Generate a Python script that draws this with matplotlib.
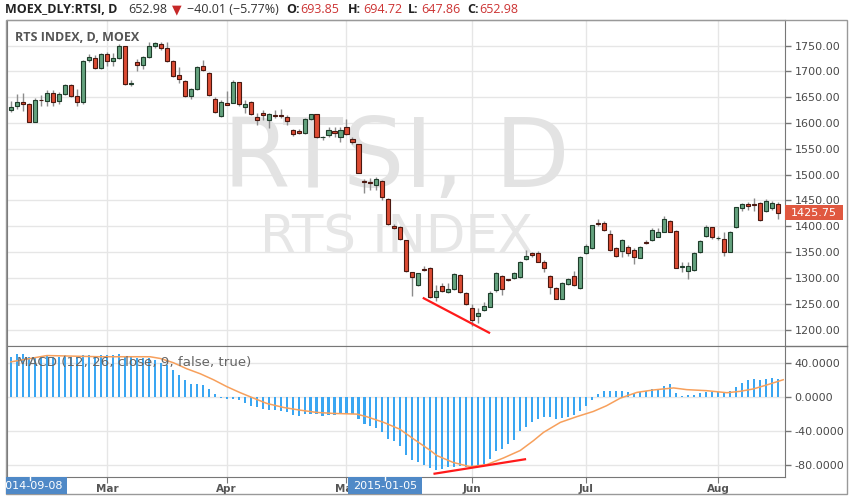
import matplotlib
matplotlib.use('Agg')
import matplotlib.pyplot as plt
import numpy as np
from matplotlib.patches import Rectangle
from matplotlib.lines import Line2D
from matplotlib.transforms import Bbox

W, H = 851, 498

# ── Data: daily candles (O, H, L, C) ─────────────────────────────
opens = [1625, 1633, 1641, 1637, 1602, 1645, 1643, 1659, 1642, 1656,
         1673, 1652, 1641, 1722, 1726, 1707, 1733, 1720, 1725, 1749,
         1676, 1718, 1712, 1728, 1750, 1753, 1746, 1720, 1693, 1682,
         1652, 1665, 1710, 1697, 1646, 1613, 1638, 1639, 1679, 1631,
         1641, 1611, 1620, 1606, 1616, 1616, 1611, 1586, 1585, 1581,
         1607, 1617, 1572, 1576, 1584, 1573, 1592, 1569, 1559, 1487,
         1486, 1480, 1488, 1453, 1400, 1399, 1373, 1311, 1286, 1318,
         1320, 1264, 1285, 1272, 1278, 1306, 1271, 1241, 1227, 1237,
         1244, 1277, 1304, 1297, 1299, 1302, 1336, 1348, 1349, 1331,
         1304, 1281, 1260, 1288, 1304, 1280, 1349, 1357, 1407, 1407,
         1386, 1357, 1353, 1359, 1355, 1339, 1369, 1373, 1380, 1389,
         1411, 1391, 1321, 1314, 1315, 1351, 1381, 1398, 1377, 1375,
         1351, 1398, 1435, 1443, 1443, 1445, 1430, 1435, 1444]
highs = [1643, 1657, 1658, 1639, 1648, 1655, 1663, 1663, 1660, 1675,
         1675, 1665, 1721, 1733, 1731, 1735, 1737, 1735, 1752, 1750,
         1683, 1724, 1730, 1756, 1756, 1756, 1757, 1721, 1708, 1684,
         1667, 1711, 1722, 1699, 1650, 1644, 1661, 1683, 1680, 1645,
         1643, 1619, 1625, 1620, 1625, 1627, 1615, 1588, 1588, 1609,
         1618, 1618, 1575, 1593, 1593, 1593, 1607, 1573, 1560, 1491,
         1493, 1496, 1490, 1455, 1405, 1400, 1374, 1312, 1310, 1323,
         1322, 1287, 1290, 1290, 1309, 1308, 1273, 1250, 1241, 1254,
         1275, 1312, 1306, 1298, 1311, 1332, 1355, 1350, 1353, 1334,
         1306, 1283, 1292, 1299, 1314, 1343, 1365, 1403, 1414, 1410,
         1392, 1360, 1375, 1363, 1357, 1362, 1373, 1396, 1396, 1419,
         1413, 1393, 1331, 1331, 1351, 1374, 1402, 1399, 1381, 1389,
         1391, 1438, 1445, 1447, 1455, 1447, 1453, 1448, 1447]
lows = [1622, 1628, 1624, 1601, 1601, 1633, 1632, 1632, 1637, 1654,
        1651, 1633, 1636, 1718, 1704, 1705, 1711, 1711, 1723, 1674,
        1672, 1701, 1705, 1726, 1745, 1741, 1718, 1689, 1678, 1651,
        1646, 1664, 1700, 1652, 1620, 1612, 1634, 1638, 1633, 1620,
        1615, 1596, 1606, 1590, 1610, 1610, 1597, 1575, 1578, 1579,
        1606, 1571, 1568, 1573, 1573, 1563, 1576, 1560, 1503, 1465,
        1470, 1470, 1451, 1403, 1394, 1373, 1311, 1265, 1285, 1313,
        1262, 1255, 1272, 1271, 1277, 1271, 1248, 1207, 1212, 1235,
        1243, 1272, 1267, 1294, 1297, 1300, 1334, 1341, 1330, 1311,
        1268, 1259, 1259, 1286, 1284, 1279, 1346, 1356, 1401, 1390,
        1353, 1341, 1341, 1343, 1327, 1338, 1366, 1372, 1379, 1388,
        1388, 1319, 1312, 1298, 1314, 1349, 1380, 1376, 1373, 1343,
        1350, 1397, 1430, 1432, 1429, 1411, 1427, 1431, 1415]
closes = [1631, 1641, 1637, 1602, 1644, 1644, 1659, 1640, 1656, 1673,
          1653, 1641, 1720, 1727, 1707, 1733, 1720, 1725, 1749, 1675,
          1677, 1712, 1728, 1750, 1754, 1746, 1720, 1691, 1685, 1652,
          1665, 1709, 1702, 1654, 1622, 1641, 1635, 1680, 1637, 1637,
          1617, 1606, 1615, 1617, 1614, 1614, 1604, 1579, 1580, 1607,
          1617, 1572, 1573, 1586, 1580, 1586, 1578, 1564, 1504, 1485,
          1484, 1491, 1456, 1404, 1396, 1375, 1314, 1301, 1309, 1316,
          1264, 1275, 1275, 1278, 1307, 1273, 1250, 1218, 1233, 1246,
          1271, 1309, 1278, 1296, 1309, 1330, 1342, 1344, 1331, 1319,
          1282, 1260, 1291, 1297, 1287, 1341, 1362, 1402, 1405, 1393,
          1355, 1342, 1373, 1349, 1340, 1360, 1368, 1392, 1388, 1415,
          1389, 1320, 1322, 1323, 1349, 1372, 1398, 1379, 1378, 1351,
          1389, 1437, 1443, 1439, 1442, 1413, 1448, 1445, 1425.75]

# MACD bars and signal line (signal read at sparse points)
macd_hist = [47, 50, 50, 47, 47, 46.5, 48.5, 47, 47, 48.5, 47, 46.5, 48.5, 48.5,
             47, 48.5, 48.5, 48.5, 50, 47, 46.5, 46, 46, 46,
             43.5, 39.5, 37, 31, 26, 20, 15, 15, 14, 9, 3,
             -1, -2.7, -2.7, -4, -6.7, -10.6, -12.5, -14.5, -15.4, -15.8,
             -16.6, -17.7, -21, -22.4, -19.6, -19.6, -19.6, -22.4, -21, -21,
             -20.5, -20.5, -20.5, -26.5, -31.6, -34.5, -37, -41, -49, -52,
             -58, -68, -74, -76, -80,
             -83.5, -86, -84.7, -82, -82, -81, -82, -82, -81, -79,
             -73, -64, -61, -55.4, -50.7, -40.6, -36, -30, -26, -24,
             -23.4, -26, -25, -23.4, -21, -17, -10.5, -3.5, 3.2, 7.2,
             7.2, 6.4, 7.2, 5.2, 4, 5.2, 7.2, 9.2, 9.2, 13.2,
             15.2, 4.4, 1.2, 2, 2, 4, 5.2, 6, 5.2, 4.4,
             6.4, 11.2, 16, 19.2, 20.4, 19.2, 21.2, 22.4, 21.2]
signal_idx = [0, 6, 14.9, 23.2, 24.9, 27.1, 29.3, 31.6, 33.8, 36, 38.2, 40.5,
              42.7, 45.5, 48.2, 51, 53.8, 57.7, 59.4, 62.2, 64.9, 67.2, 70,
              71.1, 73.8, 76.6, 79.4, 82.2, 85, 87.2, 88.9, 91.7, 94.4, 97.2,
              99.4, 101.7, 104.5, 107.2, 110.6, 112.8, 116.1, 119.5, 121.7,
              123.9, 126.2, 128.9]
signal_val = [41, 48.4, 47, 47, 45, 40, 33, 27, 20, 12, 5, -1.6,
              -7.8, -12.5, -15.6, -18.3, -19.5, -20.3, -23.4, -30, -38, -49.5, -63,
              -69, -77, -82, -79.6, -71.8, -63, -51.5, -41.7, -30, -23.4, -17.2,
              -10.5, -1.6, 5.2, 8, 10.4, 8.4, 7.2, 4.8, 6.4,
              9.2, 14, 20]

month_labels = ['Mar', 'Apr', 'May', 'Jun', 'Jul', 'Aug']
month_idx = [16, 36, 56, 77, 96, 118]
price_ticks = list(range(1200, 1751, 50))
macd_ticks = [40, 0, -40, -80]
last_price = 1425.75
price_trend_x, price_trend_y = [68.9, 79.8], [1260.6, 1194]
macd_trend_x, macd_trend_y = [70.7, 85.8], [-90.2, -73.3]
cursor_labels = ['2014-09-08', '2015-01-05']
cursor_idx = [3.2, 62.4]

# ── Style ────────────────────────────────────────────────────────
up_fill, up_edge = '#64a27e', '#1f3d2b'
dn_fill, dn_edge = '#dd4b33', '#4a1810'
grid_c = '#e6e6e6'
axis_c = '#777777'
label_c = '#4a4a4a'
red_txt = '#cc3333'


def fx(px):
    return px / W


def fy(py):
    return 1 - py / H


fig = plt.figure(figsize=(W / 100, H / 100), dpi=100, facecolor='white')
ax1 = fig.add_axes([fx(7), fy(346), 778 / W, 326 / H])
ax2 = fig.add_axes([fx(7), fy(477), 778 / W, 131 / H])

n = len(closes)
x = np.arange(n)
o = np.array(opens, dtype=float)
c = np.array(closes, dtype=float)
up = c >= o
body_lo = np.minimum(o, c)
body_h = np.maximum(np.abs(c - o), 1.2)

for ax in (ax1, ax2):
    ax.set_xlim(-0.67, 129.2)
    ax.set_axisbelow(True)
    ax.grid(True, color=grid_c, linewidth=1)
    ax.set_xticks(month_idx)
    for s in ax.spines.values():
        s.set_color(axis_c)
    ax.yaxis.tick_right()
    ax.tick_params(axis='y', length=4, width=1, color=axis_c, labelcolor=label_c,
                   labelsize=8, pad=3)

# ── Candles ──────────────────────────────────────────────────────
ax1.vlines(x, lows, highs, color='#8c8c8c', linewidth=1, zorder=2)
ax1.bar(x, body_h, bottom=body_lo, width=0.68,
        color=np.where(up, up_fill, dn_fill),
        edgecolor=np.where(up, up_edge, dn_edge), linewidth=0.8, zorder=3)
ax1.plot(price_trend_x, price_trend_y, color='#ff1a1a', linewidth=1.6, zorder=4)

ax1.set_ylim(1168.2, 1799.4)
ax1.set_yticks(price_ticks)
ax1.set_yticklabels([f'{v:.2f}' for v in price_ticks])
ax1.tick_params(axis='x', length=0, labelbottom=False)

ax1.text(0.5, 0.4877, 'RTSI, D', transform=ax1.transAxes, ha='center',
         va='baseline', fontsize=70, color='#e3e3e3', zorder=0.6)
ax1.text(0.501, 0.288, 'RTS INDEX', transform=ax1.transAxes, ha='center',
         va='baseline', fontsize=37, color='#e6e6e6', zorder=0.6)
ax1.text(0.0103, 0.9457, 'RTS INDEX, D, MOEX', transform=ax1.transAxes,
         ha='left', va='center', fontsize=9, fontweight='bold',
         family=['Open Sans', 'DejaVu Sans'], color='#555555', zorder=5)

# ── MACD ─────────────────────────────────────────────────────────
ax2.bar(x, macd_hist, width=0.35, color='#3aa6f2', zorder=2)
ax2.plot(signal_idx, signal_val, color='#f7a05c', linewidth=1.1, zorder=3)
ax2.plot(macd_trend_x, macd_trend_y, color='#ff1a1a', linewidth=1.6, zorder=4)
ax2.set_ylim(-94.1, 59.6)
ax2.set_yticks(macd_ticks)
ax2.set_yticklabels([f'{v:.4f}' for v in macd_ticks])
ax2.set_xticklabels(month_labels)
ax2.tick_params(axis='x', length=4, color=axis_c, labelcolor='#555555',
                labelsize=7.5, pad=1)
for t in ax2.get_xticklabels():
    t.set_fontweight('bold')
ax2.text(0.0129, 0.873, 'MACD (12, 26, close, 9, false, true)',
         transform=ax2.transAxes, ha='left', va='center', fontsize=9.6,
         color='#666666', zorder=5)

# ── Frame and separators ─────────────────────────────────────────
fig.add_artist(Rectangle((fx(5.5), fy(494)), (847 - 5.5) / W, (494 - 20) / H,
                         fill=False, edgecolor='#999999', linewidth=1))
fig.add_artist(Line2D([fx(785), fx(847)], [fy(346), fy(346)],
                      color=axis_c, linewidth=1))

# ── Last price label ─────────────────────────────────────────────
fig.canvas.draw()
lp_y = ax1.transData.transform((0, last_price))[1] / H
fig.add_artist(Rectangle((fx(785), lp_y - 7.5 / H), 58 / W, 15 / H,
                         facecolor='#e05840', edgecolor='none'))
fig.text(fx(814), lp_y, f'{last_price:.2f}', ha='center', va='center',
         fontsize=8, color='white')

# ── Cursor date boxes on the time axis ───────────────────────────
clip = Bbox.from_extents(6, 0, 847, H)
for lab, ci in zip(cursor_labels, cursor_idx):
    cx = ax2.transData.transform((ci, 0))[0]
    box = Rectangle((fx(cx - 37), fy(494)), 74 / W, 17 / H,
                    facecolor='#4f89c7', edgecolor='none')
    fig.add_artist(box)
    box.set_clip_box(clip)
    t = fig.text(fx(cx), fy(486), lab, ha='center', va='center',
                 fontsize=8, color='white')
    t.set_clip_box(clip)
    t.set_clip_on(True)
    fig.add_artist(Line2D([fx(cx), fx(cx)], [fy(477), fy(480)],
                          color='white', linewidth=1))

# ── Header row ───────────────────────────────────────────────────
hdr = ['Open Sans', 'DejaVu Sans']
parts = [
    (5, 'MOEX_DLY:RTSI, D', '#222222', 'bold'),
    (128, '652.98', '#333333', 'normal'),
    (172, '▼', '#c62828', 'normal'),
    (187, '\u221240.01 (\u22125.77%)', '#333333', 'normal'),
    (286, 'O:', '#222222', 'bold'),
    (300, '693.85', red_txt, 'normal'),
    (348, 'H:', '#222222', 'bold'),
    (363, '694.72', red_txt, 'normal'),
    (408, 'L:', '#222222', 'bold'),
    (421, '647.86', red_txt, 'normal'),
    (467, 'C:', '#222222', 'bold'),
    (479, '652.98', red_txt, 'normal'),
]
for px, txt, col, wt in parts:
    fig.text(fx(px), fy(9.5), txt, ha='left', va='center', fontsize=9,
             fontweight=wt, color=col, family=hdr)

fig.savefig('out.png', dpi=100, facecolor='white')
